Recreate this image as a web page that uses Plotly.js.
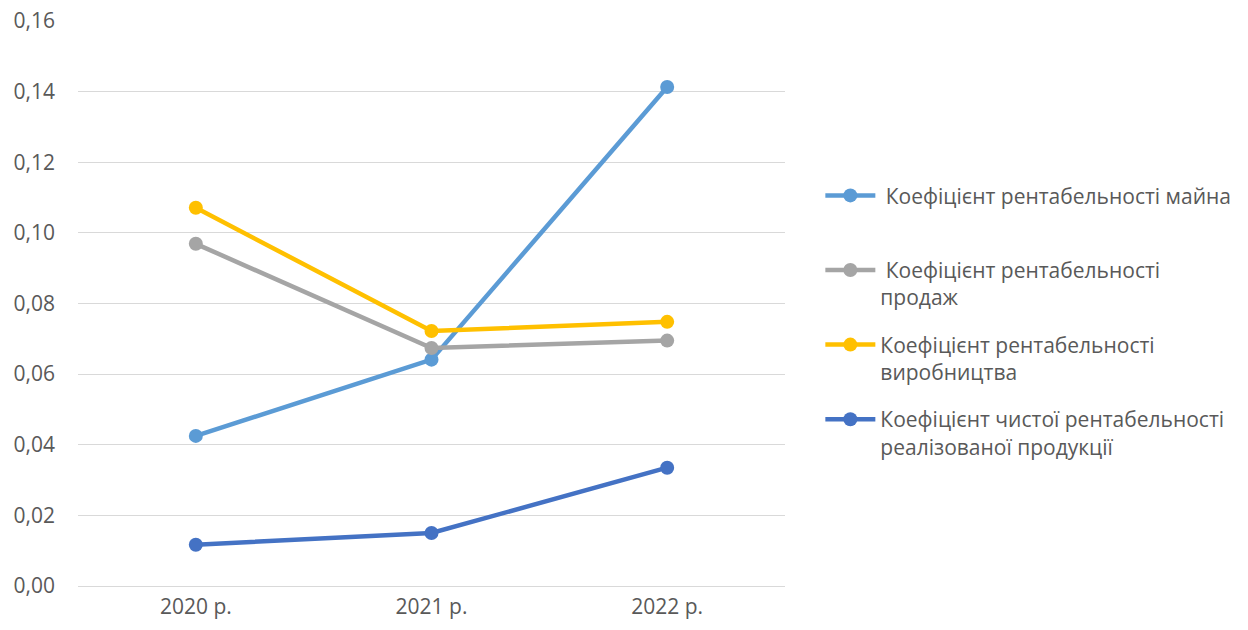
<!DOCTYPE html>
<html>
<head>
<meta charset="utf-8">
<script src="https://cdn.plot.ly/plotly-3.0.1.min.js"></script>
<style>html,body{margin:0;padding:0;background:#fff;}#chart{width:1248px;height:630px;}</style>
</head>
<body>
<div id="chart"></div>
<script>
const years = ["2020 р.", "2021 р.", "2022 р."];
const seriesNames = [
  " Коефіцієнт рентабельності майна<br> ",
  " Коефіцієнт рентабельності<br>продаж",
  "Коефіцієнт рентабельності<br>виробництва",
  "Коефіцієнт чистої рентабельності<br>реалізованої продукції"
];
const assetReturn = [0.0425, 0.0641, 0.1413];
const salesReturn = [0.0969, 0.0674, 0.0695];
const productionReturn = [0.1071, 0.0722, 0.0748];
const netProductReturn = [0.0117, 0.0150, 0.0335];
const colors = ["#5B9BD5", "#A5A5A5", "#FFC000", "#4472C4"];
const allSeries = [assetReturn, salesReturn, productionReturn, netProductReturn];

const traces = allSeries.map((vals, i) => ({
  x: years,
  y: vals,
  name: seriesNames[i],
  type: "scatter",
  mode: "lines+markers",
  line: {color: colors[i], width: 4.5},
  marker: {color: colors[i], size: 14},
  legendgroup: "g" + i
}));

const layout = {
  width: 1248, height: 630,
  margin: {l: 78, r: 461, t: 21, b: 44},
  paper_bgcolor: "#fff", plot_bgcolor: "#fff",
  font: {family: "'Open Sans', sans-serif", color: "#595959", size: 21},
  showlegend: true,
  xaxis: {
    type: "category", range: [-0.5, 2.5],
    showgrid: false, zeroline: false, showline: false,
    ticks: "", ticklabelstandoff: 6, tickfont: {size: 21, color: "#595959"}
  },
  yaxis: {
    range: [0, 0.16], dtick: 0.02, tickformat: ".2f",
    showgrid: true, gridcolor: "#D9D9D9", gridwidth: 1,
    zeroline: true, zerolinecolor: "#D9D9D9", zerolinewidth: 1,
    showline: false, ticks: "", ticklabelstandoff: 22,
    tickfont: {size: 21, color: "#595959"}
  },
  separators: ",.",
  legend: {
    x: 1.05, xanchor: "left", y: 0.727, yanchor: "top",
    font: {size: 21, color: "#595959"},
    valign: "top", traceorder: "grouped", tracegroupgap: 17,
    itemwidth: 50,
    bgcolor: "rgba(0,0,0,0)"
  }
};

Plotly.newPlot("chart", traces, layout, {displayModeBar: false, staticPlot: true});
</script>
</body>
</html>
